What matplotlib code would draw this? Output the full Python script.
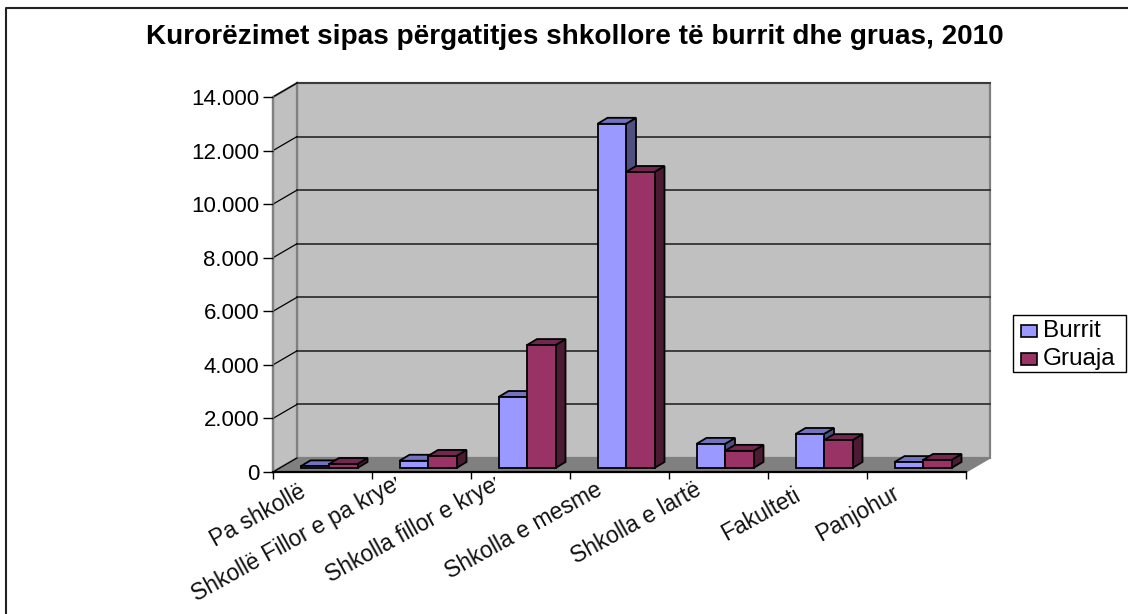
import matplotlib
matplotlib.use("Agg")
import matplotlib.pyplot as plt
from matplotlib.lines import Line2D
from matplotlib.patches import Polygon, Rectangle

plt.rcParams["font.family"] = ["Liberation Sans", "DejaVu Sans"]

categories = [
    "Pa shkollë", "Shkollë Fillor e pa kryer", "Shkolla fillor e kryer",
    "Shkolla e mesme", "Shkolla e lartë", "Fakulteti", "Panjohur",
]
burrit = [60, 270, 2650, 12850, 900, 1270, 220]
gruaja = [150, 450, 4590, 11050, 640, 1040, 300]
series_names = ["Burrit", "Gruaja"]
y_ticks = [0, 2000, 4000, 6000, 8000, 10000, 12000, 14000]
y_labels = ["0", "2.000", "4.000", "6.000", "8.000", "10.000", "12.000", "14.000"]
title = "Kurorëzimet sipas përgatitjes shkollore të burrit dhe gruas, 2010"

# how far below the axis each rotated label ends, in px
label_drop = [18, 8, 8, 16, 16, 21, 20]

W, H = 1128, 614
fig = plt.figure(figsize=(W / 100, H / 100), dpi=100, facecolor="white")

# front face of the box, in pixels
left, right, bottom, top = 273, 966, 472, 97
ax = fig.add_axes([left / W, 1 - bottom / H, (right - left) / W, (bottom - top) / H])
ax.set_xlim(0, len(categories))
ax.set_ylim(0, 14000)
ax.patch.set_visible(False)
for s in ax.spines.values():
    s.set_visible(False)

ux = len(categories) / (right - left)
uy = 14000 / (bottom - top)
depth_x, depth_y = 24 * ux, 14 * uy


def poly(pts, fc, ec="black", lw=1.3, z=2):
    ax.add_patch(Polygon(pts, closed=True, fc=fc, ec=ec, lw=lw, zorder=z,
                         clip_on=False, joinstyle="miter"))


# walls and floor
n = len(categories)
poly([(depth_x, depth_y), (n + depth_x, depth_y), (n + depth_x, 14000 + depth_y),
      (depth_x, 14000 + depth_y)], "#c0c0c0", ec="#808080", lw=1.6, z=1)
poly([(0, 0), (depth_x, depth_y), (depth_x, 14000 + depth_y), (0, 14000)],
     "#c0c0c0", ec="#808080", lw=1.6, z=1)
poly([(0, 0), (n, 0), (n + depth_x, depth_y), (depth_x, depth_y)],
     "#808080", ec="#808080", lw=1, z=1)
ax.plot([0, n], [0, 0], color="black", lw=1.6, clip_on=False, zorder=1.5)

# gridlines on the walls
for v in y_ticks:
    if v > 0:
        ax.plot([depth_x, n + depth_x], [v + depth_y, v + depth_y],
                color="#333333", lw=1.3, clip_on=False, zorder=1.2)
    ax.plot([0, depth_x], [v, v + depth_y], color="black", lw=0.9,
            clip_on=False, zorder=1.2)
ax.plot([0, 0], [0, 14000], color="#808080", lw=1.6, clip_on=False, zorder=1.3)

# bars
bar_w = 28.5 * ux
bar_dx, bar_dy = 10 * ux, 6 * uy
base = 4 * uy
gap = 27.5 * ux
colors = [("#9999ff", "#7272c0", "#4f4f80"), ("#993366", "#722650", "#4d1a33")]


def bar3d(x, v, cols, z):
    y0 = base
    y1 = base + v
    poly([(x + bar_w, y0), (x + bar_w + bar_dx, y0 + bar_dy),
          (x + bar_w + bar_dx, y1 + bar_dy), (x + bar_w, y1)], cols[2], z=z)
    poly([(x, y1), (x + bar_dx, y1 + bar_dy), (x + bar_w + bar_dx, y1 + bar_dy),
          (x + bar_w, y1)], cols[1], z=z)
    poly([(x, y0), (x + bar_w, y0), (x + bar_w, y1), (x, y1)], cols[0], z=z)


for i, (a, b) in enumerate(zip(burrit, gruaja)):
    x0 = i + gap
    bar3d(x0, a, colors[0], 3 + i * 0.1)
    bar3d(x0 + bar_w, b, colors[1], 3.05 + i * 0.1)

# axes ticks and labels
ax.set_yticks(y_ticks)
ax.set_yticklabels(y_labels, fontsize=16)
ax.tick_params(axis="y", length=7, width=1, color="black", pad=3)
ax.set_xticks(range(n + 1))
ax.set_xticklabels([])
ax.tick_params(axis="x", length=5, width=1, color="black")

for i, name in enumerate(categories):
    t = ax.annotate(name, xy=(i + 0.31, 0), xytext=(0, -label_drop[i] * 0.72),
                    textcoords="offset points", rotation=29, rotation_mode="anchor",
                    ha="right", va="center", fontsize=16.5, annotation_clip=False,
                    color="#111111")
    # the two longest labels get cut off on the right, like the original
    if len(name) > 20:
        t.set_clip_path(Rectangle((-3, -9000), i + 3.24, 18000, transform=ax.transData))

fig.text(575 / W, 1 - 37 / H, title, ha="center", va="center", fontsize=20.1, fontweight="bold")

# legend box
fig.add_artist(Rectangle((1013 / W, 1 - 372 / H), 113 / W, 57 / H, fc="white", ec="black",
                         lw=1, transform=fig.transFigure))
for k, name in enumerate(series_names):
    yc = 331 + k * 28
    fig.add_artist(Rectangle((1021 / W, 1 - (yc + 6) / H), 16 / W, 12 / H, fc=colors[k][0],
                             ec="black", lw=1.2, transform=fig.transFigure))
    fig.text(1043 / W, 1 - yc / H, name, ha="left", va="center", fontsize=17.5)

# outer frame, only left and top are inside the picture
fig.add_artist(Line2D([6 / W, 6 / W, 1], [0, 1 - 8 / H, 1 - 8 / H], color="#222222", lw=1.5,
                      transform=fig.transFigure))

fig.savefig("out.png", dpi=100)
